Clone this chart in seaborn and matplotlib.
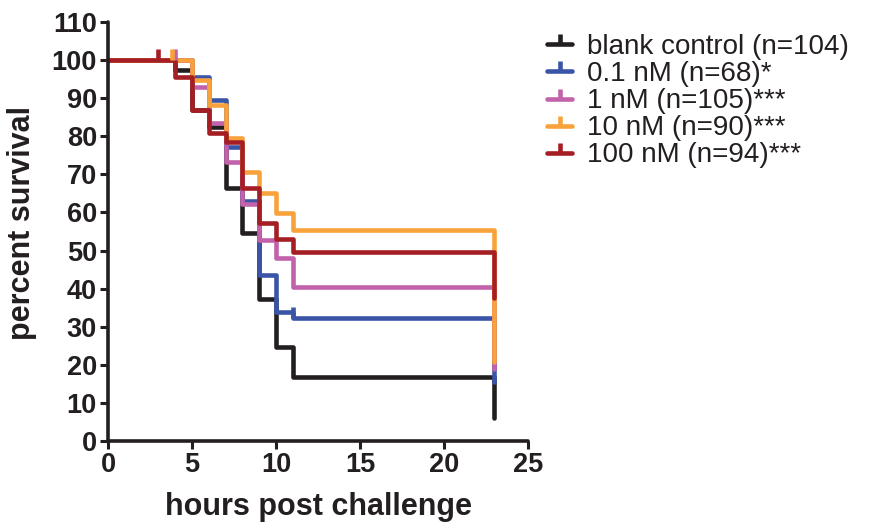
import numpy as np
import pandas as pd
import matplotlib
matplotlib.use("Agg")
import matplotlib.pyplot as plt
from matplotlib.path import Path
from matplotlib.lines import Line2D
import seaborn as sns

# ---- data ----
labels = ["blank control (n=104)", "0.1 nM (n=68)*", "1 nM (n=105)***",
          "10 nM (n=90)***", "100 nM (n=94)***"]
colors = ["#231f20", "#3a55a8", "#c162ab", "#f8a23c", "#a51e23"]

blank_t = [0, 4, 5, 6, 7, 8, 9, 10, 11, 23]
blank_s = [100, 97.4, 87.0, 82.5, 66.4, 54.6, 37.2, 24.6, 16.9, 6]

nm01_t = [0, 5, 6, 7, 8, 9, 10, 11, 23]
nm01_s = [100, 95.6, 89.5, 77.2, 63.0, 43.6, 33.8, 32.3, 15.5]

nm1_t = [0, 5, 6, 7, 8, 9, 10, 11, 23]
nm1_s = [100, 93.0, 83.5, 73.3, 62.3, 52.8, 48.0, 40.5, 18.8]

nm10_t = [0, 5, 6, 7, 8, 9, 10, 11, 23]
nm10_s = [100, 94.9, 88.3, 79.5, 70.7, 65.2, 59.8, 55.3, 20.8]

nm100_t = [0, 4, 5, 6, 7, 8, 9, 10, 11, 23]
nm100_s = [100, 95.6, 86.9, 80.8, 78.6, 66.5, 57.3, 53.0, 49.7, 37.5]

# censored observations (time, survival)
cens_t = [[], [11], [4.0], [3.8], [3.0]]
cens_s = [[], [32.3], [100], [100], [100]]

xticks = [0, 5, 10, 15, 20, 25]
yticks = list(range(0, 111, 10))

series_t = [blank_t, nm01_t, nm1_t, nm10_t, nm100_t]
series_s = [blank_s, nm01_s, nm1_s, nm10_s, nm100_s]

df = pd.concat([pd.DataFrame({"hours": t, "survival": s, "group": lab})
                for t, s, lab in zip(series_t, series_s, labels)],
               ignore_index=True)

# ---- style ----
sns.set_style("ticks")
plt.rcParams["font.family"] = ["Liberation Sans", "DejaVu Sans"]

fig = plt.figure(figsize=(8.73, 5.30), dpi=100)
ax = fig.add_axes([108 / 873, 89 / 530, 420 / 873, 419 / 530])

LW = 3.3
sns.lineplot(data=df, x="hours", y="survival", hue="group", hue_order=labels,
             palette=colors, estimator=None, drawstyle="steps-post",
             linewidth=LW, ax=ax, legend=False, clip_on=False)

tick_marker = Path([(0, 0), (0, 1)], [Path.MOVETO, Path.LINETO])
for ct, cs, c in zip(cens_t, cens_s, colors):
    if ct:
        ax.plot(ct, cs, linestyle="none", marker=tick_marker, markersize=16,
                markeredgewidth=LW, color=c, clip_on=False)

ax.set_xlim(0, 25)
ax.set_ylim(0, 110)
ax.set_xticks(xticks)
ax.set_yticks(yticks)
ax.set_xticklabels([str(v) for v in xticks], fontsize=19.5, fontweight="bold")
ax.set_yticklabels([str(v) for v in yticks], fontsize=19.5, fontweight="bold")
ax.tick_params(axis="both", direction="out", length=6, width=2.2, color="#231f20",
               pad=2, labelcolor="#231f20")
for side in ["top", "right"]:
    ax.spines[side].set_visible(False)
for side in ["left", "bottom"]:
    ax.spines[side].set_linewidth(2.6)
    ax.spines[side].set_color("#231f20")
    ax.spines[side].set_capstyle("round")

ax.set_xlabel("hours post challenge", fontsize=22, fontweight="bold",
              color="#231f20", labelpad=10)
ax.set_ylabel("percent survival", fontsize=22, fontweight="bold",
              color="#231f20", labelpad=8)
ax.yaxis.set_label_coords(-0.168, 0.52)

handles = [Line2D([], [], color=c, linewidth=LW, marker=tick_marker,
                  markersize=14, markeredgewidth=LW) for c in colors]
fig.legend(handles, labels, loc="upper left", bbox_to_anchor=(547 / 873, 1 - 34 / 530),
           frameon=False, fontsize=20, handlelength=0.9, handletextpad=0.55,
           labelspacing=0.04, numpoints=1, borderaxespad=0, borderpad=0,
           labelcolor="#231f20")

fig.savefig("out.png", dpi=100, facecolor="white")
